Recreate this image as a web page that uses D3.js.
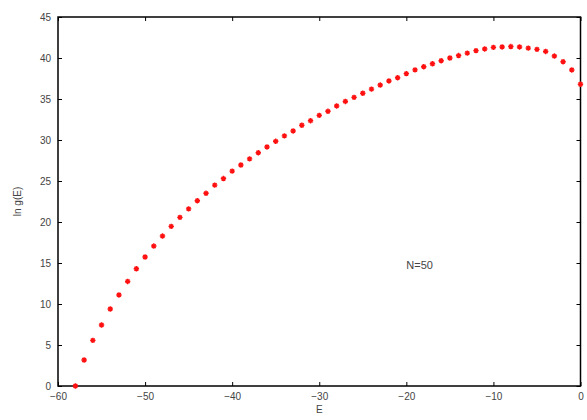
<!DOCTYPE html>
<html>
<head>
<meta charset="utf-8">
<script src="https://cdn.jsdelivr.net/npm/d3@7"></script>
<style>
  body { margin: 0; background: #fff; }
  svg { display: block; }
  .tick text { font-family: "Liberation Sans", Arial, sans-serif; font-size: 10px; fill: #444; }
  .lbl { font-family: "Liberation Sans", Arial, sans-serif; font-size: 10px; fill: #444; }
</style>
</head>
<body>
<svg width="587" height="420"></svg>
<script>
  var energy = d3.range(-58, 1);
  var lnG = [0, 3.17, 5.57, 7.44, 9.39, 11.1, 12.75, 14.3, 15.73, 17.07,
             18.29, 19.47, 20.57, 21.6, 22.6, 23.5, 24.5, 25.3, 26.2, 26.95,
             27.7, 28.45, 29.15, 29.84, 30.5, 31.1, 31.8, 32.35, 33.0, 33.5,
             34.15, 34.7, 35.2, 35.7, 36.2, 36.7, 37.2, 37.6, 38.1, 38.55,
             38.94, 39.3, 39.67, 40.0, 40.3, 40.6, 40.9, 41.1, 41.3, 41.35,
             41.4, 41.35, 41.2, 41.05, 40.8, 40.24, 39.55, 38.54, 36.8];
  var xTicks = [-60, -50, -40, -30, -20, -10, 0];
  var yTicks = [0, 5, 10, 15, 20, 25, 30, 35, 40, 45];

  (function() {
    var svg = d3.select('svg');
    var pl = 58, pr = 580.5, pt = 17, pb = 386;

    var x = d3.scaleLinear().domain([-60, 0]).range([pl, pr]);
    var y = d3.scaleLinear().domain([0, 45]).range([pb, pt]);

    // inward ticks on all four sides, like gnuplot's mirror ticks
    function axis(a, tr, lab) {
      var g = svg.append('g').attr('transform', tr).call(a);
      g.select('.domain').remove();
      g.selectAll('.tick line').attr('stroke', '#000').attr('stroke-width', 1);
      if (!lab) g.selectAll('.tick text').remove();
      return g;
    }
    axis(d3.axisBottom(x).tickValues(xTicks).tickSizeInner(-4).tickPadding(7)
          .tickFormat(d3.format('d')), 'translate(0,' + pb + ')', true);
    axis(d3.axisTop(x).tickValues(xTicks).tickSizeInner(-4), 'translate(0,' + pt + ')', false);
    axis(d3.axisLeft(y).tickValues(yTicks).tickSizeInner(-4).tickPadding(7),
          'translate(' + pl + ',0)', true);
    axis(d3.axisRight(y).tickValues(yTicks).tickSizeInner(-4), 'translate(' + pr + ',0)', false);

    svg.append('rect')
      .attr('x', pl).attr('y', pt)
      .attr('width', pr - pl).attr('height', pb - pt)
      .attr('fill', 'none').attr('stroke', '#000').attr('stroke-width', 1.5);

    svg.append('text').attr('class', 'lbl')
      .attr('x', (pl + pr) / 2).attr('y', 413)
      .attr('text-anchor', 'middle').text('E');
    svg.append('text').attr('class', 'lbl')
      .attr('transform', 'translate(21,' + (pt + pb) / 2 + ') rotate(-90)')
      .attr('text-anchor', 'middle').text('ln g(E)');
    svg.append('text').attr('class', 'lbl')
      .attr('x', x(-20)).attr('y', y(14.3))
      .style('font-size', '11px').text('N=50');

    var star = 'M-2.7,0H2.7M0,-2.7V2.7M-1.9,-1.9L1.9,1.9M-1.9,1.9L1.9,-1.9';
    svg.append('g').selectAll('path').data(energy).enter().append('path')
      .attr('transform', function(d, i) { return 'translate(' + x(d) + ',' + y(lnG[i]) + ')'; })
      .attr('d', star)
      .attr('stroke', '#ff1010').attr('stroke-width', 1.4).attr('fill', 'none');
  })();
</script>
</body>
</html>
